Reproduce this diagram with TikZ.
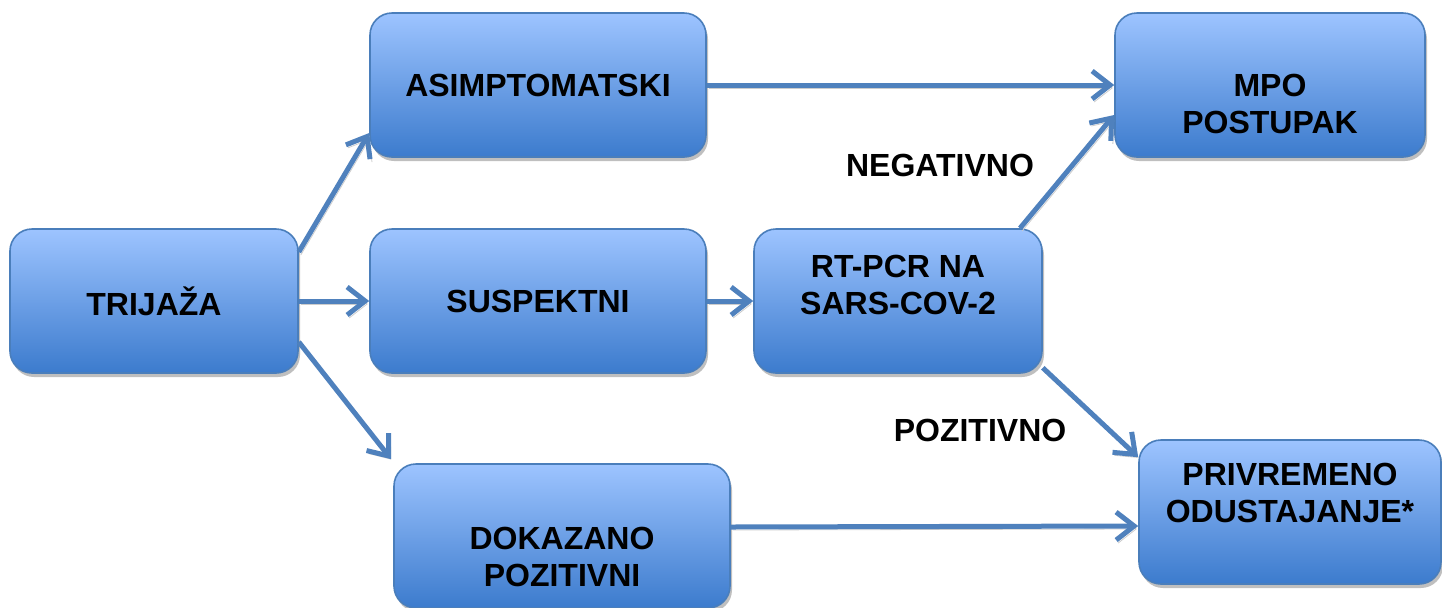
\documentclass[tikz,border=0pt]{standalone}
\usepackage{fontspec}
\setmainfont{Liberation Sans}
\usetikzlibrary{arrows.meta,shadows}
\definecolor{boxtop}{RGB}{157,196,255}
\definecolor{boxbot}{RGB}{60,123,205}
\definecolor{boxedge}{RGB}{74,126,187}
\definecolor{flowblue}{RGB}{79,129,189}
\tikzset{
  box/.style={draw=boxedge,line width=0.8pt,rounded corners=11pt,top color=boxtop,bottom color=boxbot,
    minimum height=72pt,align=center,drop shadow={shadow xshift=1pt,shadow yshift=-2pt,fill=black!25,opacity=1}},
  boxtext/.style={align=center,font=\bfseries\fontsize{16}{18.5}\selectfont},
  flow/.style={draw=flowblue,line width=2.5pt,-{Straight Barb[length=9pt,width=14pt]},
    preaction={draw=black!20,transform canvas={xshift=1pt,yshift=-1.5pt}}},
}
\begin{document}
\begin{tikzpicture}[x=0.5pt,y=-0.5pt]
			\useasboundingbox (0,0) rectangle (1442,607);
			\node[box,boxtext,minimum width=144pt] (trijaza) at (154,301) {TRIJAŽA};
			\node[box,boxtext,minimum width=168pt] (asim) at (538,85) {ASIMPTOMATSKI};
			\node[box,boxtext,minimum width=168pt] (susp) at (538,301) {SUSPEKTNI};
			\node[box,minimum width=144pt,label={[name=rtpcrtext,boxtext,yshift=8pt]center:{RT-PCR NA\\SARS-COV-2}}] (rtpcr) at (898,301) {};
			\node[box,minimum width=155pt,label={[name=mpotext,boxtext,yshift=-9.5pt]center:{MPO\\POSTUPAK}}] (mpo) at (1270,85) {};
			\node[box,minimum width=151pt,label={[name=privtext,boxtext,yshift=9.5pt]center:{PRIVREMENO\\ODUSTAJANJE*}}] (priv) at (1290,512) {};
			\node[box,minimum width=168pt,label={[name=doktext,boxtext,yshift=-10.5pt]center:{DOKAZANO\\POZITIVNI}}] (dokaz) at (562,536) {};
			\node[boxtext] (neg) at (940,165) {NEGATIVNO};
			\node[boxtext] (poz) at (980,430) {POZITIVNO};
			\draw[flow] ([yshift=24.5pt]trijaza.east) -- ([yshift=-24pt]asim.west);
			\draw[flow] (trijaza.east) -- (susp.west);
			\draw[flow] ([yshift=-20.5pt]trijaza.east) -- ([xshift=-1pt,yshift=2pt]dokaz.north west);
			\draw[flow] (asim.east) -- (mpo.west);
			\draw[flow] (susp.east) -- (rtpcr.west);
			\draw[flow] ([xshift=61pt]rtpcr.north) -- ([yshift=-15pt]mpo.west);
			\draw[flow] ([yshift=3pt]rtpcr.south east) -- ([yshift=-9pt]priv.north west);
			\draw[flow] ([yshift=4.5pt]dokaz.east) -- ([yshift=-7pt]priv.west);
\end{tikzpicture}
\end{document}
